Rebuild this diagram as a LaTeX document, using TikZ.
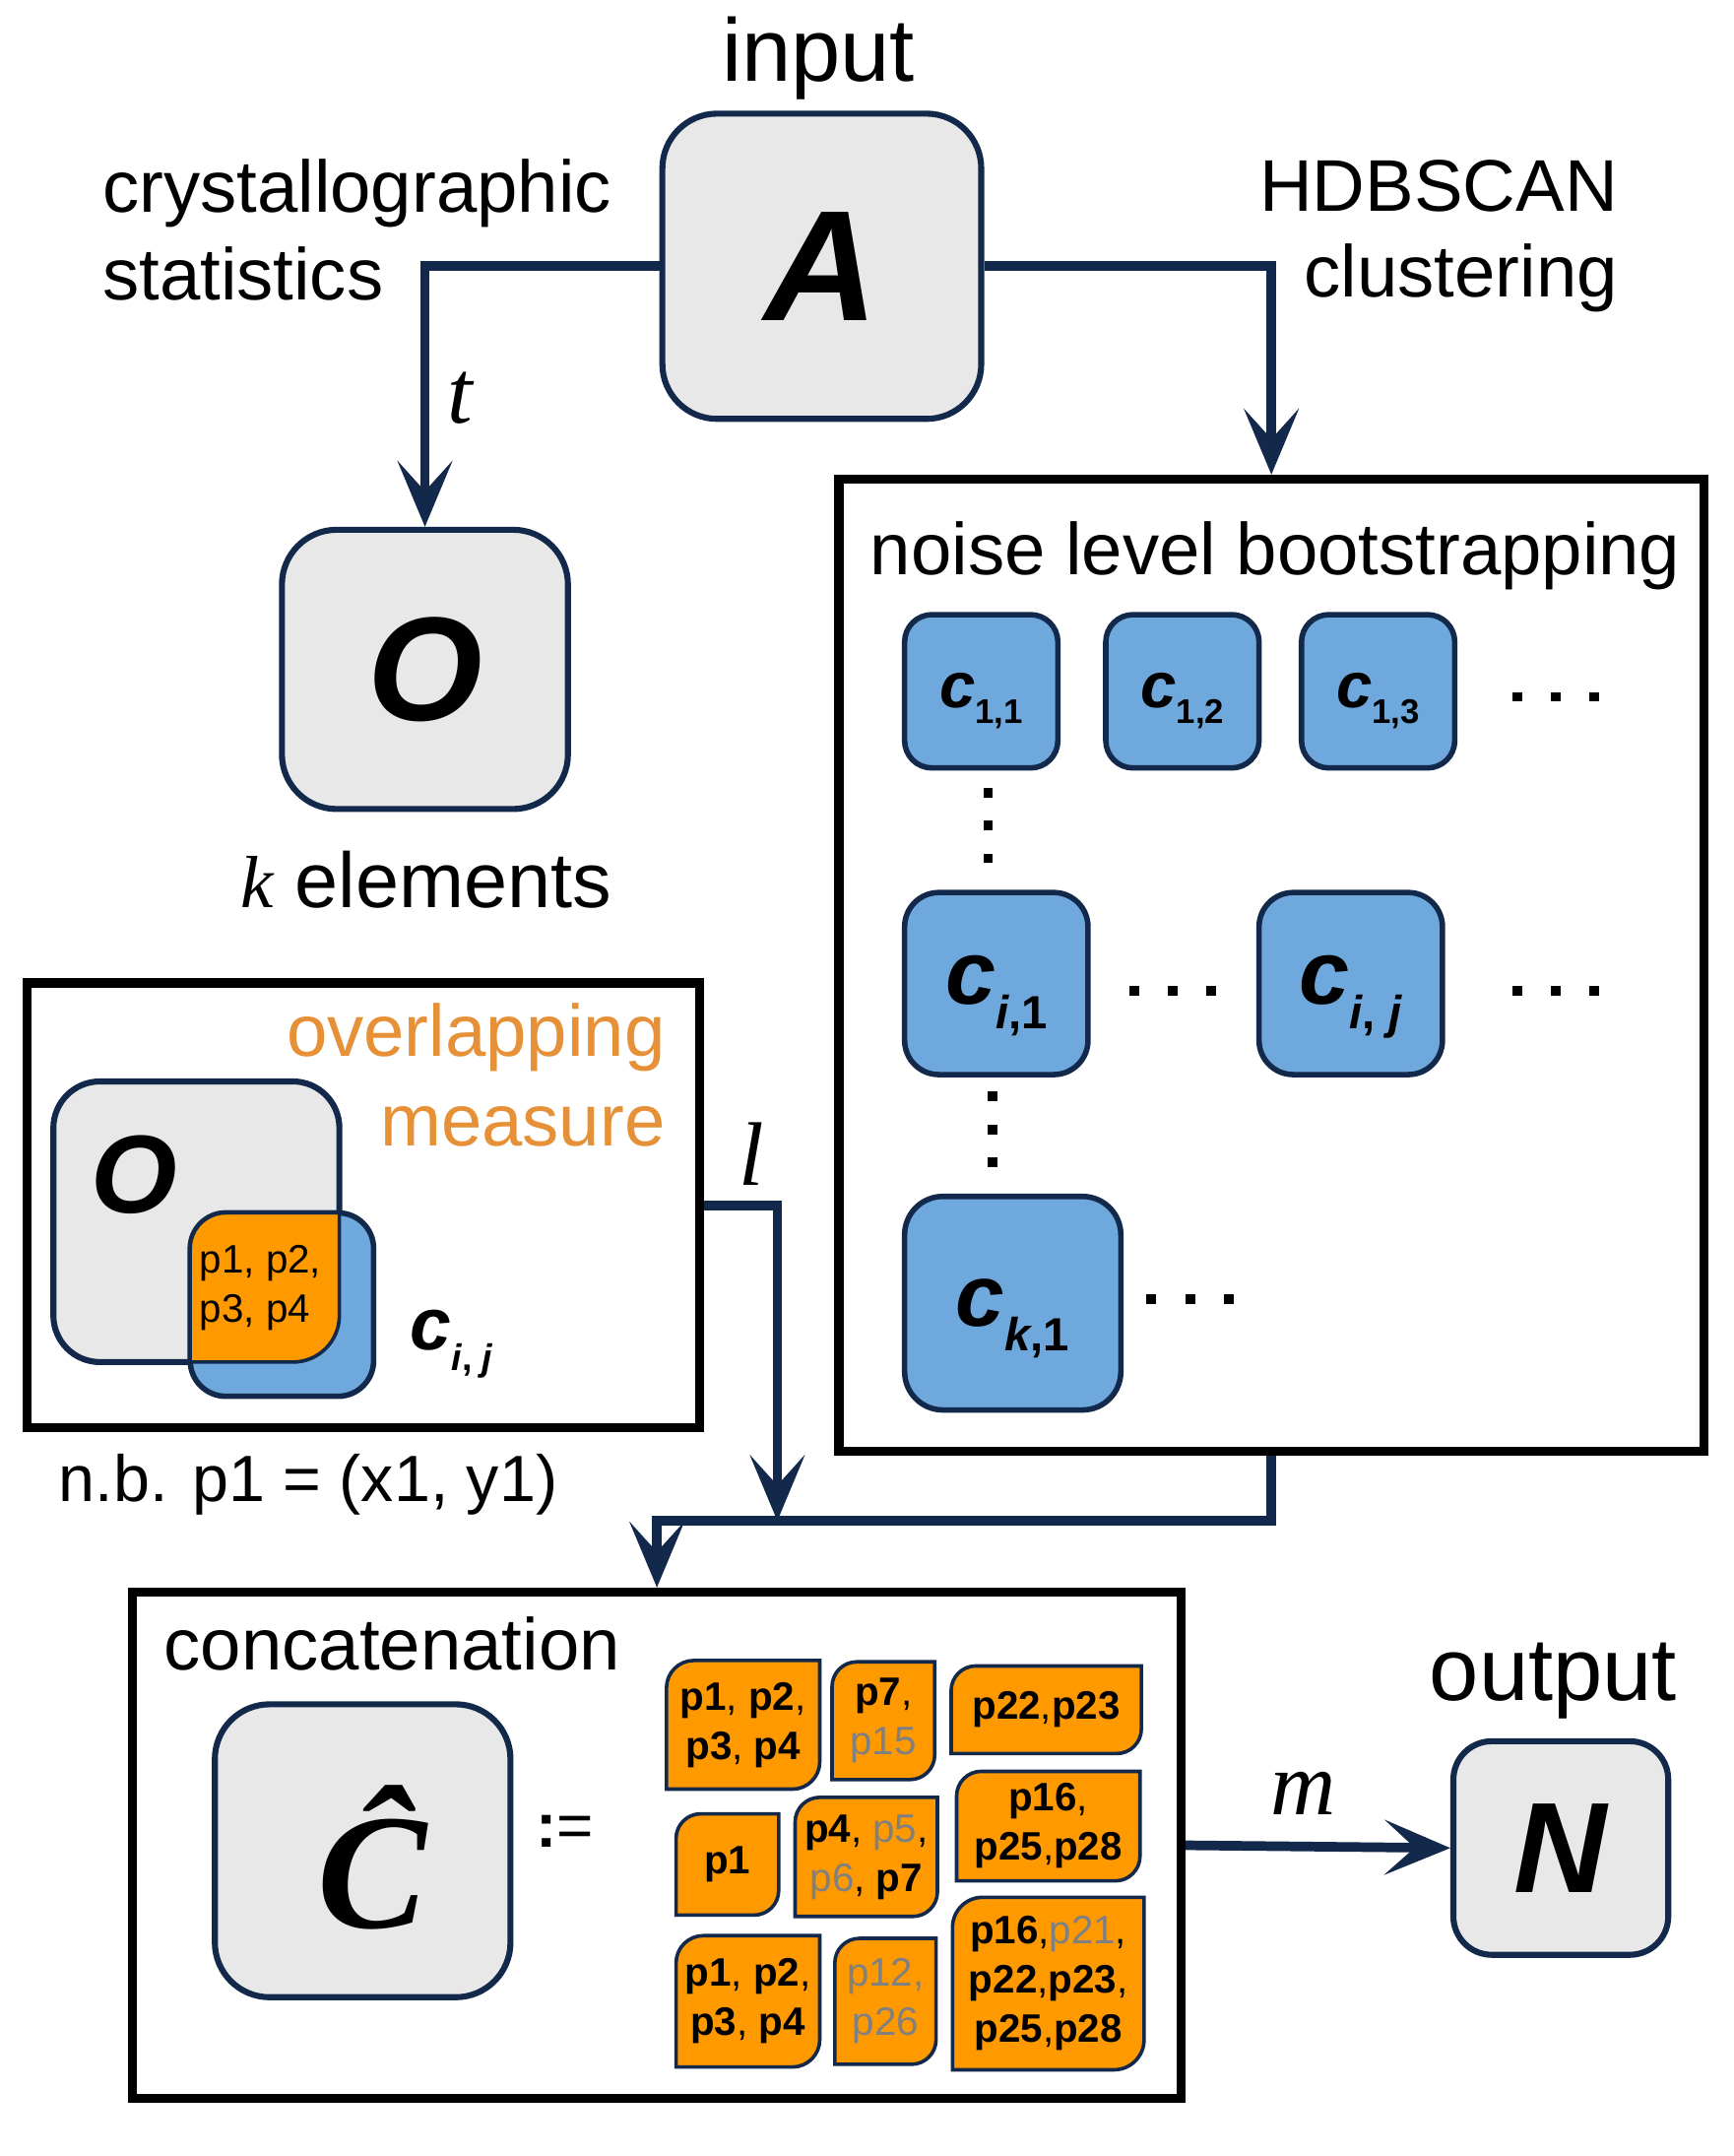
\documentclass[tikz,border=0pt]{standalone}
\usepackage{fontspec}
\setmainfont{Liberation Sans}
\newfontfamily\tnr{Liberation Serif}
\usetikzlibrary{arrows.meta}
\definecolor{navy}{HTML}{13294B}
\definecolor{gfill}{HTML}{E8E8E8}
\definecolor{bfill}{HTML}{6FA8DC}
\definecolor{ofill}{HTML}{FF9900}
\definecolor{otext}{HTML}{E69138}
\definecolor{gtext}{HTML}{808080}
\newcommand\fsz[1]{\fontsize{#1}{#1}\selectfont}
\newcommand\B[1]{\textbf{#1}}
\newcommand\G[1]{\textcolor{gtext}{#1}}
\newcommand\clab[4]{{\fontsize{#1}{#1}\selectfont\bfseries\itshape c}\raisebox{-#3pt}{\fontsize{#2}{#2}\selectfont\bfseries #4}}
% orange box: x1 y1 x2 y2 rTL rBR
\newcommand\obox[6]{\filldraw[draw=navy, line width=1.3pt, fill=ofill]
 (#1,#4) -- (#1,{#2+#5}) .. controls (#1,{#2+0.448*#5}) and ({#1+0.448*#5},#2) .. ({#1+#5},#2)
 -- (#3,#2) -- (#3,{#4-#6}) .. controls (#3,{#4-0.448*#6}) and ({#3-0.448*#6},#4) .. ({#3-#6},#4) -- cycle;}
\newcommand\dt[2]{\fill[black] ({#1-3.5},{#2-3.5}) rectangle ({#1+3.5},{#2+3.5});}
\begin{document}
\begin{tikzpicture}[x=0.5pt,y=-0.5pt,
  graybox/.style={draw=navy, line width=2.2pt, fill=gfill, rounded corners=20pt, inner sep=0pt},
  bluebox/.style={draw=navy, line width=2pt, fill=bfill, inner sep=0pt},
  frame/.style={draw=black, line width=3.3pt, inner sep=0pt, fill=none},
  arr/.style={draw=navy, line width=3.5pt, -{Stealth[length=24pt,width=20pt,inset=11pt]}},
  txt/.style={inner sep=0pt, outer sep=0pt},
  otx/.style={inner sep=0pt, align=center, font={\fontsize{14.5pt}{18pt}\selectfont}},
]
\fill[white] (0,0) rectangle (1267,1575);
\useasboundingbox (0,0) rectangle (1267,1575);

% ---------- top ----------
\node[graybox, minimum width=116.5pt, minimum height=111.5pt] (A) at (600.5,194.5) {\fsz{57.5}\bfseries\itshape A};
\node[txt, anchor=base] (tin) at (598,59) {\fsz{32.5}input};
\node[txt, anchor=base west] (tcs1) at (75,155) {\fsz{26.75}crystallographic};
\node[txt, anchor=base west] (tcs2) at (75,219) {\fsz{26.75}statistics};
\node[txt, anchor=base east] (thd1) at (1182,154) {\fsz{26.75}HDBSCAN};
\node[txt, anchor=base east] (thd2) at (1182,217) {\fsz{26.75}clustering};

\node[graybox, minimum width=104.5pt, minimum height=102pt] (O) at (310.5,489) {\fsz{54}\bfseries\itshape O};
\node[txt, anchor=base] (tt) at (336,309) {\fsz{33}\tnr\itshape t};
\node[txt, anchor=base west] (tk) at (176,663) {{\fsz{27}\tnr\itshape k}\fsz{28.5} elements};

% ---------- noise box ----------
\node[frame, minimum width=316pt, minimum height=355pt] (noise) at (929,705) {};
\node[txt, anchor=base west] (tnoise) at (636,420) {\fsz{26.75}noise level bootstrapping};

\node[bluebox, rounded corners=10pt, minimum width=56pt, minimum height=56pt] (c11) at (717,505) {};
\node[bluebox, rounded corners=10pt, minimum width=56pt, minimum height=56pt] (c12) at (864,505) {};
\node[bluebox, rounded corners=10pt, minimum width=56pt, minimum height=56pt] (c13) at (1007,505) {};
\node[bluebox, rounded corners=12.5pt, minimum width=67pt, minimum height=66.5pt] (ci1) at (728,718.5) {};
\node[bluebox, rounded corners=12.5pt, minimum width=67pt, minimum height=66.5pt] (cij) at (987,718.5) {};
\node[bluebox, rounded corners=14pt, minimum width=79pt, minimum height=78pt] (ck1) at (740,952) {};

\node[txt] (c11t) at ([yshift=-3.5pt]c11.center) {\clab{23.5}{12.5}{6}{1,1}};
\node[txt] (c12t) at ([yshift=-3.5pt]c12.center) {\clab{23.5}{12.5}{6}{1,2}};
\node[txt] (c13t) at ([yshift=-3.5pt]c13.center) {\clab{23.5}{12.5}{6}{1,3}};
\node[txt] (ci1t) at ([yshift=-4.5pt]ci1.center) {\clab{33}{17}{9}{\textit{i},1}};
\node[txt] (cijt) at ([yshift=-5pt]cij.center) {\clab{33}{17}{9}{\textit{i}, \textit{j}}};
\node[txt] (ck1t) at ([yshift=-5.5pt]ck1.center) {\clab{32}{17}{9}{\textit{k},1}};

\dt{1109}{509}\dt{1137}{509}\dt{1165}{509}
\dt{722}{579}\dt{722}{603}\dt{722}{627}
\dt{829}{724}\dt{857}{724}\dt{885}{724}
\dt{1109}{724}\dt{1137}{724}\dt{1165}{724}
\dt{725}{801}\dt{725}{825}\dt{725}{849}
\dt{841}{949}\dt{870}{949}\dt{898}{949}

% ---------- overlap box ----------
\node[frame, minimum width=245.5pt, minimum height=162.5pt] (ov) at (265.5,880.5) {};
\node[txt, anchor=base east, text=otext] (tov1) at (486,772) {\fsz{26.75}overlapping};
\node[txt, anchor=base east, text=otext] (tov2) at (486,837) {\fsz{26.75}measure};
\node[graybox, rounded corners=17pt, minimum width=104.5pt, minimum height=102.5pt] (Og) at (143.5,892.5) {};
\node[bluebox, rounded corners=13pt, minimum width=67pt, minimum height=67pt] (Cb) at (206,953) {};
\obox{139}{886}{248}{995}{26}{34}
\node[txt] (Ogt) at (98,858) {\fsz{40.5}\bfseries\itshape O};
\node[txt, anchor=west, align=left, font={\fontsize{14.5pt}{18pt}\selectfont}] (pov) at (146,941) {p1, p2,\\p3, p4};
\node[txt, anchor=base west] (cijo) at (300,986) {\clab{27}{13.5}{7.5}{\textit{i}, \textit{j}}};
\node[txt, anchor=base west] (tnb) at (43,1097) {\fsz{23.9}n.b. p1 = (x1, y1)};
\node[txt, anchor=base] (tl) at (549,866) {\fsz{33}\tnr\itshape l};

% ---------- concatenation ----------
\node[frame, minimum width=383pt, minimum height=185pt] (concat) at (480,1348) {};
\node[txt, anchor=base west] (tcc) at (120,1220) {\fsz{26.75}concatenation};
\node[graybox, minimum width=108pt, minimum height=107pt] (Chat) at (265,1352) {};
\node[txt] (Chatt) at (272,1357) {\fsz{60}\tnr\bfseries\itshape Ĉ};
\node[txt] (tdef) at (413,1338) {\fsz{23}\textbf{:}=};

\obox{487}{1213}{599}{1307}{20}{20}
\obox{608}{1214}{683}{1300}{18}{18}
\obox{695}{1217}{834}{1281}{18}{18}
\obox{494}{1325}{569}{1399}{18}{18}
\obox{581}{1313}{685}{1400}{18}{18}
\obox{699}{1294}{833}{1374}{18}{18}
\obox{494}{1414}{599}{1510}{20}{20}
\obox{610}{1416}{684}{1508}{18}{18}
\obox{696}{1386}{836}{1512}{22}{22}

\node[otx] (o1) at (543,1260) {\B{p1}, \B{p2},\\\B{p3}, \B{p4}};
\node[otx] (o2) at (645.5,1257) {\B{p7},\\\G{p15}};
\node[otx] (o3) at (764.5,1249) {\B{p22},\B{p23}};
\node[otx] (o4) at (531.5,1362) {\B{p1}};
\node[otx] (o5) at (633,1356.5) {\B{p4}, \G{p5},\\\G{p6}, \B{p7}};
\node[otx] (o6) at (766,1334) {\B{p16},\\\B{p25},\B{p28}};
\node[otx] (o7) at (546.5,1462) {\B{p1}, \B{p2},\\\B{p3}, \B{p4}};
\node[otx] (o8) at (647,1462) {\G{p12,}\\\G{p26}};
\node[otx] (o9) at (766,1449) {\B{p16},\G{p21},\\\B{p22},\B{p23},\\\B{p25},\B{p28}};

% ---------- output ----------
\node[graybox, rounded corners=14pt, minimum width=78.5pt, minimum height=78pt] (N) at (1140.5,1350) {\fsz{47}\bfseries\itshape N};
\node[txt, anchor=base] (tout) at (1135,1242) {\fsz{32.5}output};
\node[txt, anchor=base] (tm) at (952,1326) {\fsz{33}\tnr\itshape m};

% ---------- connectors ----------
\coordinate (j) at (568,1111);
\draw[arr] (A.west) -| (O.north);
\draw[arr] (A.east) -| (noise.north);
\draw[arr] (ov.east) -| (j);
\draw[arr] (noise.south) -- (noise.south |- j) -| (concat.north);
\draw[arr] (concat.east) -- (N.west);
\end{tikzpicture}
\end{document}
